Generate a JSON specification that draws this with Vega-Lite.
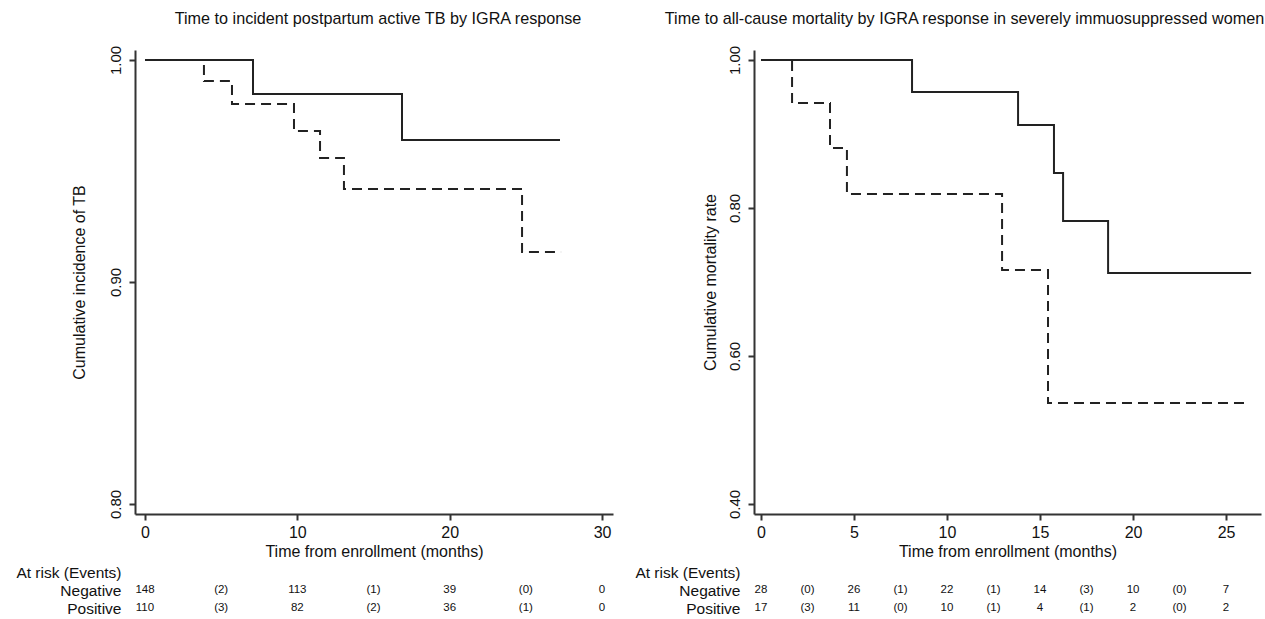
{
  "$schema": "https://vega.github.io/schema/vega-lite/v6.json",
  "background": "white",
  "padding": {"left": 15, "top": 11, "right": 0, "bottom": 0},
  "config": {
    "view": {"stroke": null},
    "font": "Liberation Sans",
    "axis": {
      "grid": false,
      "domainColor": "#333",
      "domainWidth": 2,
      "tickColor": "#333",
      "tickWidth": 2,
      "tickSize": 6,
      "labelColor": "#111",
      "titleColor": "#111",
      "labelFont": "Liberation Sans",
      "titleFont": "Liberation Sans",
      "titleFontWeight": "normal",
      "labelFontSize": 16,
      "titleFontSize": 16,
      "labelFlush": false
    },
    "title": {"font": "Liberation Sans", "fontSize": 16.2, "fontWeight": "normal", "color": "#111", "frame": "group", "anchor": "middle", "offset": 18}
  },
  "datasets": {
    "tb": [
      {"group": "Negative", "t": 0, "s": 1},
      {"group": "Negative", "t": 7.09, "s": 0.9847},
      {"group": "Negative", "t": 16.87, "s": 0.964},
      {"group": "Negative", "t": 27.24, "s": 0.964},
      {"group": "Positive", "t": 0, "s": 1},
      {"group": "Positive", "t": 3.87, "s": 0.9905},
      {"group": "Positive", "t": 5.71, "s": 0.9802},
      {"group": "Positive", "t": 9.78, "s": 0.968},
      {"group": "Positive", "t": 11.49, "s": 0.9559},
      {"group": "Positive", "t": 13.06, "s": 0.9419},
      {"group": "Positive", "t": 24.75, "s": 0.9135},
      {"group": "Positive", "t": 27.31, "s": 0.9135}
    ],
    "mort": [
      {"group": "Negative", "t": 0, "s": 1},
      {"group": "Negative", "t": 8.12, "s": 0.9568},
      {"group": "Negative", "t": 13.82, "s": 0.9122},
      {"group": "Negative", "t": 15.75, "s": 0.8473},
      {"group": "Negative", "t": 16.24, "s": 0.7824},
      {"group": "Negative", "t": 18.66, "s": 0.7122},
      {"group": "Negative", "t": 26.35, "s": 0.7122},
      {"group": "Positive", "t": 0, "s": 1},
      {"group": "Positive", "t": 1.67, "s": 0.9419},
      {"group": "Positive", "t": 3.71, "s": 0.8811},
      {"group": "Positive", "t": 4.62, "s": 0.8189},
      {"group": "Positive", "t": 12.96, "s": 0.7162},
      {"group": "Positive", "t": 15.43, "s": 0.5365},
      {"group": "Positive", "t": 26.0, "s": 0.5365}
    ],
    "tbRisk": [
      {"row": "Negative", "t": 0, "label": "148"},
      {"row": "Negative", "t": 5, "label": "(2)"},
      {"row": "Negative", "t": 10, "label": "113"},
      {"row": "Negative", "t": 15, "label": "(1)"},
      {"row": "Negative", "t": 20, "label": "39"},
      {"row": "Negative", "t": 25, "label": "(0)"},
      {"row": "Negative", "t": 30, "label": "0"},
      {"row": "Positive", "t": 0, "label": "110"},
      {"row": "Positive", "t": 5, "label": "(3)"},
      {"row": "Positive", "t": 10, "label": "82"},
      {"row": "Positive", "t": 15, "label": "(2)"},
      {"row": "Positive", "t": 20, "label": "36"},
      {"row": "Positive", "t": 25, "label": "(1)"},
      {"row": "Positive", "t": 30, "label": "0"}
    ],
    "mortRisk": [
      {"row": "Negative", "t": 0, "label": "28"},
      {"row": "Negative", "t": 2.5, "label": "(0)"},
      {"row": "Negative", "t": 5, "label": "26"},
      {"row": "Negative", "t": 7.5, "label": "(1)"},
      {"row": "Negative", "t": 10, "label": "22"},
      {"row": "Negative", "t": 12.5, "label": "(1)"},
      {"row": "Negative", "t": 15, "label": "14"},
      {"row": "Negative", "t": 17.5, "label": "(3)"},
      {"row": "Negative", "t": 20, "label": "10"},
      {"row": "Negative", "t": 22.5, "label": "(0)"},
      {"row": "Negative", "t": 25, "label": "7"},
      {"row": "Positive", "t": 0, "label": "17"},
      {"row": "Positive", "t": 2.5, "label": "(3)"},
      {"row": "Positive", "t": 5, "label": "11"},
      {"row": "Positive", "t": 7.5, "label": "(0)"},
      {"row": "Positive", "t": 10, "label": "10"},
      {"row": "Positive", "t": 12.5, "label": "(1)"},
      {"row": "Positive", "t": 15, "label": "4"},
      {"row": "Positive", "t": 17.5, "label": "(1)"},
      {"row": "Positive", "t": 20, "label": "2"},
      {"row": "Positive", "t": 22.5, "label": "(0)"},
      {"row": "Positive", "t": 25, "label": "2"}
    ]
  },
  "resolve": {"scale": {"x": "independent", "y": "independent"}},
  "spacing": 21,
  "hconcat": [
    {
      "spacing": 4,
      "resolve": {"scale": {"x": "independent", "y": "independent"}},
      "vconcat": [
        {
          "width": 478,
          "height": 464,
          "title": {"text": "Time to incident postpartum active TB by IGRA response", "dx": 4},
          "data": {"name": "tb"},
          "mark": {"type": "line", "interpolate": "step-after", "strokeWidth": 2, "color": "#222"},
          "encoding": {
            "x": {"field": "t", "type": "quantitative", "scale": {"domain": [-0.656, 30.72], "nice": false, "zero": false},
                  "axis": {"values": [0, 10, 20, 30], "title": "Time from enrollment (months)", "labelPadding": 4, "titlePadding": 3}},
            "y": {"field": "s", "type": "quantitative", "scale": {"domain": [0.7955, 1.0045], "nice": false, "zero": false},
                  "axis": {"values": [0.8, 0.9, 1.0], "format": ".2f", "title": "Cumulative incidence of TB", "labelFontSize": 15, "labelAngle": 270, "labelAlign": "center", "labelBaseline": "bottom", "labelPadding": 6, "titlePadding": 21}},
            "strokeDash": {"field": "group", "type": "nominal", "scale": {"domain": ["Negative", "Positive"], "range": [[1, 0], [10, 6]]}, "legend": null}
          }
        },
        {
          "width": 478,
          "height": 54,
          "data": {"name": "tbRisk"},
          "mark": {"type": "text", "fontSize": 11.5, "color": "#111", "baseline": "middle"},
          "encoding": {
            "x": {"field": "t", "type": "quantitative", "scale": {"domain": [-0.656, 30.72], "nice": false, "zero": false}, "axis": null},
            "y": {"field": "row", "type": "nominal", "scale": {"domain": ["At risk (Events)", "Negative", "Positive"], "paddingInner": 0, "paddingOuter": 0},
                  "axis": {"title": null, "domain": false, "ticks": false, "labelFontSize": 15.5, "labelPadding": 14, "labelAlign": "right"}},
            "text": {"field": "label"}
          }
        }
      ]
    },
    {
      "spacing": 4,
      "resolve": {"scale": {"x": "independent", "y": "independent"}},
      "vconcat": [
        {
          "width": 507,
          "height": 464,
          "title": {"text": "Time to all-cause mortality by IGRA response in severely immuosuppressed women", "dx": -43},
          "data": {"name": "mort"},
          "mark": {"type": "line", "interpolate": "step-after", "strokeWidth": 2, "color": "#222"},
          "encoding": {
            "x": {"field": "t", "type": "quantitative", "scale": {"domain": [-0.376, 26.88], "nice": false, "zero": false},
                  "axis": {"values": [0, 5, 10, 15, 20, 25], "title": "Time from enrollment (months)", "labelPadding": 4, "titlePadding": 3}},
            "y": {"field": "s", "type": "quantitative", "scale": {"domain": [0.3865, 1.0135], "nice": false, "zero": false},
                  "axis": {"values": [0.4, 0.6, 0.8, 1.0], "format": ".2f", "title": "Cumulative mortality rate", "labelFontSize": 15, "labelAngle": 270, "labelAlign": "center", "labelBaseline": "bottom", "labelPadding": 6, "titlePadding": 9}},
            "strokeDash": {"field": "group", "type": "nominal", "scale": {"domain": ["Negative", "Positive"], "range": [[1, 0], [10, 6]]}, "legend": null}
          }
        },
        {
          "width": 507,
          "height": 54,
          "data": {"name": "mortRisk"},
          "mark": {"type": "text", "fontSize": 11.5, "color": "#111", "baseline": "middle"},
          "encoding": {
            "x": {"field": "t", "type": "quantitative", "scale": {"domain": [-0.376, 26.88], "nice": false, "zero": false}, "axis": null},
            "y": {"field": "row", "type": "nominal", "scale": {"domain": ["At risk (Events)", "Negative", "Positive"], "paddingInner": 0, "paddingOuter": 0},
                  "axis": {"title": null, "domain": false, "ticks": false, "labelFontSize": 15.5, "labelPadding": 14, "labelAlign": "right"}},
            "text": {"field": "label"}
          }
        }
      ]
    }
  ]
}
